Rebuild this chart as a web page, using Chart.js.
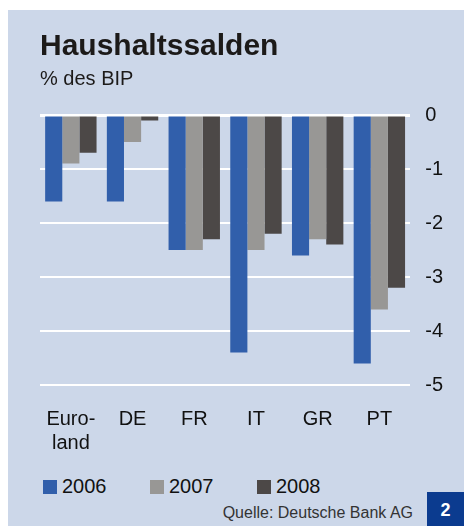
<!DOCTYPE html>
<html>
<head>
<meta charset="utf-8">
<script src="https://cdn.jsdelivr.net/npm/chart.js@4/dist/chart.umd.min.js"></script>
<style>
  body { margin: 0; background: #ffffff; font-family: "Liberation Sans", Arial, sans-serif; }
  #panel { position: absolute; left: 8px; top: 10px; width: 456px; height: 516px; background: #ccd7e9; }
  #wrap { position: absolute; left: 0; top: 0; width: 456px; height: 459px; }
  #legend { position: absolute; left: 35px; top: 465px; display: flex; font-size: 20px; color: #111; }
  #legend .item { width: 107px; display: flex; align-items: center; }
  #legend .box { width: 14px; height: 14px; margin-right: 5px; }
  #source { position: absolute; right: 51px; top: 494px; font-size: 16px; color: #333; }
  #badge { position: absolute; right: 0; bottom: 0; width: 37px; height: 34px; background: #0b3b8f;
           color: #fff; font-weight: bold; font-size: 18px; text-align: center; line-height: 36px; }
</style>
</head>
<body>
<div id="panel">
  <div id="wrap"><canvas id="chart"></canvas></div>
  <div id="legend"></div>
  <div id="source">Quelle: Deutsche Bank AG</div>
  <div id="badge">2</div>
</div>
<script>
var laender = [["Euro-", "land"], "DE", "FR", "IT", "GR", "PT"];
var jahre = ["2006", "2007", "2008"];
var werte2006 = [-1.6, -1.6, -2.5, -4.4, -2.6, -4.6];
var werte2007 = [-0.9, -0.5, -2.5, -2.5, -2.3, -3.6];
var werte2008 = [-0.7, -0.1, -2.3, -2.2, -2.4, -3.2];
var farben = ["#315fab", "#989795", "#4c4847"];

var schrift = "'Liberation Sans', Arial, sans-serif";

var datensaetze = [werte2006, werte2007, werte2008].map(function (werte, i) {
  return {
    label: jahre[i],
    data: werte,
    backgroundColor: farben[i],
    borderWidth: 0,
    barPercentage: 1.0,
    categoryPercentage: 0.833
  };
});

// Legende als HTML
var legende = document.getElementById("legend");
jahre.forEach(function (jahr, i) {
  var item = document.createElement("div");
  item.className = "item";
  item.innerHTML = '<span class="box" style="background:' + farben[i] + '"></span>' + jahr;
  legende.appendChild(item);
});

var ctx = document.getElementById("chart").getContext("2d");
var myChart = new Chart(ctx, {
  type: "bar",
  data: {
    labels: laender,
    datasets: datensaetze
  },
  options: {
    responsive: true,
    maintainAspectRatio: false,
    animation: false,
    layout: { padding: { left: 32, right: 6, top: 0, bottom: 0 } },
    plugins: {
      legend: { display: false },
      tooltip: { enabled: false },
      title: {
        display: true,
        text: "Haushaltssalden",
        align: "start",
        color: "#1c1a19",
        font: { family: schrift, size: 30, weight: "bold" },
        padding: { top: 19, bottom: 2 }
      },
      subtitle: {
        display: true,
        text: "% des BIP",
        align: "start",
        color: "#1c1a19",
        font: { family: schrift, size: 20 },
        padding: { top: 0, bottom: 24 }
      }
    },
    scales: {
      x: {
        grid: { display: false },
        border: { display: false },
        ticks: {
          color: "#111",
          font: { family: schrift, size: 20 },
          padding: 14,
          maxRotation: 0
        }
      },
      y: {
        position: "right",
        min: -5,
        max: 0,
        border: { display: false },
        grid: {
          color: "#ffffff",
          lineWidth: function (c) { return c.tick && c.tick.value === 0 ? 3 : 2; },
          drawTicks: false
        },
        ticks: {
          stepSize: 1,
          color: "#111",
          font: { family: schrift, size: 20 },
          padding: 15,
          crossAlign: "near"
        }
      }
    }
  }
});
</script>
</body>
</html>
